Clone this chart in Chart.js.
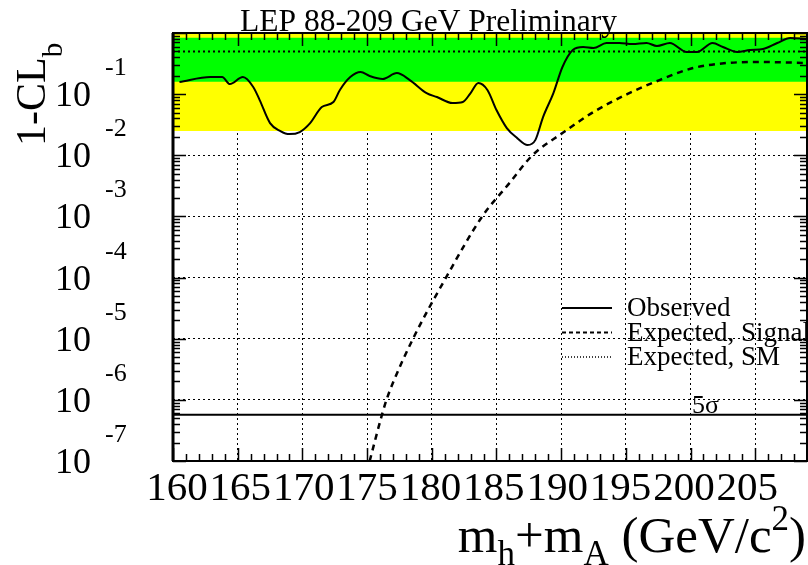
<!DOCTYPE html>
<html>
<head>
<meta charset="utf-8">
<title>LEP 1-CLb</title>
<script src="https://cdn.jsdelivr.net/npm/chart.js@4.4.0/dist/chart.umd.min.js"></script>
<style>
  html, body { margin: 0; padding: 0; background: #fff; }
</style>
</head>
<body>
<canvas id="clbChart" width="808" height="565"></canvas>
<script>
var SERIF = '"Liberation Serif", "Times New Roman", serif';

// observed 1-CLb versus mh+mA
var obsMass = [160.5, 162.9, 163.8, 164.4, 165.4, 166.2, 166.7, 167.5, 168.3, 169.0, 169.8,
  170.6, 171.5, 172.4, 172.9, 173.7, 174.5, 175.2, 176.2, 177.3, 178.3, 179.6, 180.4,
  181.6, 182.4, 183.0, 183.6, 184.3, 185.0, 185.8, 186.6, 187.4, 188.0, 188.6, 189.4,
  190.1, 190.9, 191.7, 192.5, 193.5, 194.5, 195.5, 196.6, 197.4, 198.4, 199.7, 200.5,
  201.7, 202.5, 203.6, 204.6, 205.6, 206.7, 207.7, 209.0];
var obsCLb = [0.158, 0.19, 0.19, 0.146, 0.19, 0.131, 0.080, 0.0336, 0.0249, 0.0222, 0.024,
  0.0336, 0.0615, 0.0743, 0.117, 0.19, 0.23, 0.198, 0.177, 0.221, 0.170, 0.104, 0.0897,
  0.0715, 0.0743, 0.104, 0.152, 0.117, 0.055, 0.0279, 0.0191, 0.0147, 0.0177, 0.0422, 0.104,
  0.278, 0.527, 0.59, 0.568, 0.686, 0.686, 0.66, 0.686, 0.613, 0.686, 0.489, 0.489,
  0.686, 0.59, 0.489, 0.527, 0.547, 0.686, 0.828, 0.80];

// expectation for signal + background
var sigMass = [175.2, 176.15, 176.5, 177.0, 178.55, 181.1, 183.9, 186.0, 187.8, 190.1,
  192.5, 195.1, 197.6, 200.2, 202.8, 205.4, 209.0];
var sigCLb = [1e-7, 5.7e-7, 1e-6, 1.9e-6, 1e-5, 1e-4, 1e-3, 3.5e-3, 0.0101, 0.0231,
  0.051, 0.1, 0.17, 0.267, 0.323, 0.335, 0.323];

// background-only (SM) median and its 1 and 2 sigma bands
var smMass = [160, 209];
var smCLb = [0.5, 0.5];
var band1 = [0.16, 0.84];
var band2 = [0.025, 0.975];
var fiveSigma = [5.7e-7, 5.7e-7];

var xTicks = [160, 165, 170, 175, 180, 185, 190, 195, 200, 205];
var yDecades = [-7, -6, -5, -4, -3, -2, -1];

function pts(xs, ys) {
  return xs.map(function (v, i) { return { x: v, y: ys[i] }; });
}

// draws a run of text pieces with their own size and baseline shift
function drawPieces(ctx, pieces, x, y, alignRight) {
  var widths = pieces.map(function (p) {
    ctx.font = p.size + 'px ' + SERIF;
    return ctx.measureText(p.t).width;
  });
  var total = widths.reduce(function (s, w) { return s + w; }, 0);
  var cx = alignRight ? x - total : x;
  ctx.textAlign = 'left';
  ctx.textBaseline = 'alphabetic';
  pieces.forEach(function (p, i) {
    ctx.font = p.size + 'px ' + SERIF;
    ctx.fillText(p.t, cx, y + (p.dy || 0));
    cx += widths[i];
  });
}

var rootStyle = {
  id: 'rootStyle',
  afterDraw: function (chart) {
    var ctx = chart.ctx, a = chart.chartArea;
    var x = chart.scales.x, y = chart.scales.y;
    ctx.save();
    ctx.fillStyle = '#000';
    ctx.strokeStyle = '#000';

    // tick marks inside the frame
    ctx.lineWidth = 1.5;
    ctx.beginPath();
    for (var m = 160; m <= 209; m++) {
      var px = Math.round(x.getPixelForValue(m)) + 0.5;
      var len = m % 5 === 0 ? 13 : 7;
      ctx.moveTo(px, a.bottom); ctx.lineTo(px, a.bottom - len);
      ctx.moveTo(px, a.top); ctx.lineTo(px, a.top + len);
    }
    yDecades.concat([0]).forEach(function (e) {
      for (var k = 1; k < 10; k++) {
        if (e === 0 && k > 1) break;
        var py = Math.round(y.getPixelForValue(k * Math.pow(10, e))) + 0.5;
        var l = k === 1 ? 13 : 7;
        ctx.moveTo(a.left, py); ctx.lineTo(a.left + l, py);
        ctx.moveTo(a.right, py); ctx.lineTo(a.right - l, py);
      }
    });
    ctx.stroke();

    // frame
    ctx.lineWidth = 2;
    ctx.strokeRect(a.left, a.top, a.right - a.left, a.bottom - a.top);
    ctx.lineWidth = 3;
    ctx.beginPath();
    ctx.moveTo(a.left, a.top); ctx.lineTo(a.left, a.bottom);
    ctx.stroke();

    // x tick labels, packed slightly tighter than the ticks
    ctx.font = '41px ' + SERIF;
    ctx.textAlign = 'center';
    ctx.textBaseline = 'alphabetic';
    var first = x.getPixelForValue(xTicks[0]) + 4;
    var last = x.getPixelForValue(xTicks[xTicks.length - 1]) - 8;
    xTicks.forEach(function (v, i) {
      var lx = first + (last - first) * i / (xTicks.length - 1);
      ctx.fillText(String(v), lx, 500);
    });

    // y tick labels: 10 with the exponent up to the right
    yDecades.forEach(function (e) {
      var py = y.getPixelForValue(Math.pow(10, e));
      ctx.font = '36px ' + SERIF;
      ctx.textAlign = 'right';
      ctx.fillText('10', 91, py + 12);
      ctx.font = '26px ' + SERIF;
      ctx.textAlign = 'left';
      ctx.fillText(String(e), 105, py - 19);
    });

    // title
    ctx.font = '31.5px ' + SERIF;
    ctx.textAlign = 'left';
    ctx.fillText('LEP 88-209 GeV Preliminary', 240, 31);

    // x axis title
    drawPieces(ctx, [
      { t: 'm', size: 51 }, { t: 'h', size: 35, dy: 13 },
      { t: '+m', size: 51 }, { t: 'A', size: 35, dy: 13 },
      { t: ' (GeV/c', size: 51 }, { t: '2', size: 35, dy: -22 },
      { t: ')', size: 51 }
    ], 806, 552, true);

    // y axis title, rotated
    ctx.save();
    ctx.translate(45, 146);
    ctx.rotate(-Math.PI / 2);
    drawPieces(ctx, [{ t: '1-CL', size: 42 }, { t: 'b', size: 29, dy: 17 }], 0, 0, false);
    ctx.restore();

    // 5 sigma label
    ctx.font = '26px ' + SERIF;
    ctx.textAlign = 'left';
    ctx.fillText('5\u03c3', 692, 413);

    // legend
    var rows = chart.data.datasets.filter(function (d) { return d.legendRow !== undefined; });
    rows.forEach(function (d) {
      var ly = 308 + d.legendRow * 24.5;
      ctx.save();
      ctx.lineWidth = d.legendWidth;
      ctx.setLineDash(d.legendDash);
      ctx.beginPath();
      ctx.moveTo(562, ly); ctx.lineTo(612, ly);
      ctx.stroke();
      ctx.restore();
      ctx.font = '27px ' + SERIF;
      ctx.textAlign = 'left';
      ctx.fillText(d.label, 627, ly + 8);
    });

    ctx.restore();
  }
};

var ctx = document.getElementById('clbChart').getContext('2d');
var chart = new Chart(ctx, {
  type: 'line',
  data: {
    datasets: [{
      label: 'Observed',
      data: pts(obsMass, obsCLb),
      borderColor: '#000',
      borderWidth: 2,
      cubicInterpolationMode: 'monotone',
      pointRadius: 0,
      fill: false,
      order: 0,
      legendRow: 0, legendWidth: 2, legendDash: []
    }, {
      label: 'Expected, Signal',
      data: pts(sigMass, sigCLb),
      borderColor: '#000',
      borderWidth: 2.5,
      borderDash: [6, 5],
      cubicInterpolationMode: 'monotone',
      pointRadius: 0,
      fill: false,
      order: 1,
      legendRow: 1, legendWidth: 2, legendDash: [4, 3]
    }, {
      label: 'Expected, SM',
      data: pts(smMass, smCLb),
      borderColor: '#000',
      borderWidth: 2,
      borderDash: [2, 3],
      pointRadius: 0,
      fill: false,
      order: 2,
      legendRow: 2, legendWidth: 1.5, legendDash: [1, 2]
    }, {
      label: '5 sigma',
      data: pts(smMass, fiveSigma),
      borderColor: '#000',
      borderWidth: 2,
      pointRadius: 0,
      fill: false,
      order: 2
    }, {
      label: '1 sigma band',
      data: pts(smMass, [band1[1], band1[1]]),
      borderWidth: 0,
      borderColor: 'rgba(0,0,0,0)',
      backgroundColor: '#00ff00',
      pointRadius: 0,
      fill: { value: band1[0] },
      order: 3
    }, {
      label: '2 sigma band',
      data: pts(smMass, [band2[1], band2[1]]),
      borderWidth: 0,
      borderColor: 'rgba(0,0,0,0)',
      backgroundColor: '#ffff00',
      pointRadius: 0,
      fill: { value: band2[0] },
      order: 4
    }]
  },
  options: {
    responsive: false,
    animation: false,
    events: [],
    layout: { padding: { left: 173, right: 1, top: 33, bottom: 104 } },
    plugins: {
      legend: { display: false },
      tooltip: { enabled: false },
      title: { display: false }
    },
    scales: {
      x: {
        type: 'linear',
        min: 160,
        max: 209,
        z: 1,
        afterBuildTicks: function (axis) {
          axis.ticks = xTicks.map(function (v) { return { value: v }; });
        },
        ticks: { display: false },
        grid: { color: '#000', lineWidth: 1, drawTicks: false },
        border: { display: false, dash: [2, 3] }
      },
      y: {
        type: 'logarithmic',
        min: 1e-7,
        max: 1,
        z: 1,
        afterBuildTicks: function (axis) {
          axis.ticks = yDecades.map(function (e) { return { value: Math.pow(10, e) }; });
        },
        ticks: { display: false },
        grid: { color: '#000', lineWidth: 1, drawTicks: false },
        border: { display: false, dash: [2, 3] }
      }
    }
  },
  plugins: [rootStyle]
});
</script>
</body>
</html>
